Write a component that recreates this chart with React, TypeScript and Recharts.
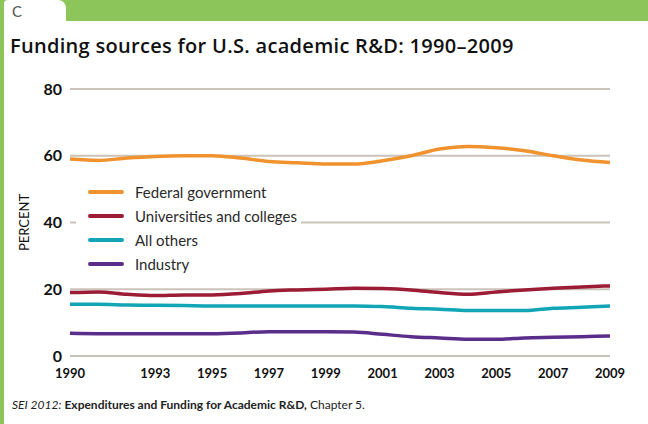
import React from 'react';
import { LineChart, Line, XAxis, YAxis, CartesianGrid } from 'recharts';

const years = [1990, 1991, 1992, 1993, 1994, 1995, 1996, 1997, 1998, 1999, 2000, 2001, 2002, 2003, 2004, 2005, 2006, 2007, 2008, 2009];
const federal = [59.0, 58.6, 59.3, 59.8, 60.0, 60.0, 59.3, 58.3, 57.9, 57.5, 57.5, 58.5, 60.0, 62.0, 62.8, 62.4, 61.5, 60.0, 58.7, 58.0];
const universities = [19.0, 19.2, 18.5, 18.1, 18.3, 18.3, 18.7, 19.5, 19.8, 20.0, 20.3, 20.2, 19.8, 19.0, 18.5, 19.2, 19.8, 20.3, 20.7, 21.0];
const allOthers = [15.5, 15.5, 15.3, 15.2, 15.1, 15.0, 15.0, 15.0, 15.0, 15.0, 15.0, 14.8, 14.3, 14.0, 13.6, 13.6, 13.6, 14.3, 14.6, 15.0];
const industry = [6.8, 6.7, 6.7, 6.7, 6.7, 6.7, 6.9, 7.3, 7.3, 7.3, 7.2, 6.5, 5.8, 5.4, 5.0, 5.0, 5.4, 5.6, 5.8, 6.0];
const xTicks = [1990, 1993, 1995, 1997, 1999, 2001, 2003, 2005, 2007, 2009];
const yTicks = [0, 20, 40, 60, 80];

const seriesNames = ['Federal government', 'Universities and colleges', 'All others', 'Industry'];
const seriesColors = ['#f0922e', '#9b1c34', '#12a5b5', '#5b2d8a'];
const seriesKeys = ['federal', 'universities', 'allOthers', 'industry'];

const data = years.map((y, i) => ({
  year: y,
  federal: federal[i],
  universities: universities[i],
  allOthers: allOthers[i],
  industry: industry[i],
}));

const FONT = 'Lato, "Open Sans", sans-serif';

export default function App() {
  return (
    <div style={{ position: 'absolute', left: 0, top: 0, width: 648, height: 424, background: '#fff', overflow: 'hidden', fontFamily: FONT }}>
      <div style={{ position: 'absolute', left: 0, top: 0, width: 648, height: 21, background: '#8cc65b' }} />
      <div style={{ position: 'absolute', left: 0, top: 0, width: 4, height: 424, background: '#8cc65b' }} />
      <div style={{ position: 'absolute', left: 4, top: 0, width: 62, height: 21, background: '#fff', borderTopRightRadius: 8, borderTopLeftRadius: 4 }} />
      <div style={{ position: 'absolute', left: 12, top: 2, fontSize: 15, color: '#555' }}>C</div>
      <div style={{ position: 'absolute', left: 10, top: 32, fontSize: 20, fontWeight: 600, color: '#111', whiteSpace: 'nowrap', fontFamily: '"Open Sans", sans-serif', letterSpacing: 0.3 }}>
        Funding sources for U.S. academic R&amp;D: 1990–2009
      </div>
      <div style={{ position: 'absolute', left: 12, top: 397, fontSize: 12, color: '#222', whiteSpace: 'nowrap' }}>
        <i>SEI 2012:</i> <span style={{ fontWeight: 700 }}>Expenditures and Funding for Academic R&amp;D,</span> Chapter 5.
      </div>
      <div style={{ position: 'absolute', left: 0, top: 0 }}>
        <LineChart width={648} height={424} data={data} margin={{ top: 89, right: 38, bottom: 38, left: 20 }}>
          <CartesianGrid vertical={false} stroke="#cbc3ba" strokeWidth={2} />
          <XAxis
            dataKey="year"
            type="number"
            domain={[1990, 2009]}
            ticks={xTicks}
            axisLine={false}
            tickLine={false}
            tickSize={0}
            tickMargin={13}
            height={30}
            interval={0}
            tick={{ fontSize: 13, fontWeight: 700, fill: '#111', fontFamily: FONT }}
          />
          <YAxis
            domain={[0, 80]}
            ticks={yTicks}
            axisLine={false}
            tickLine={false}
            tickSize={0}
            tickMargin={8}
            width={50}
            tick={{ fontSize: 16, fontWeight: 700, fill: '#111', fontFamily: FONT }}
            label={{ value: 'PERCENT', angle: -90, position: 'insideLeft', offset: 4, style: { fontSize: 13, fill: '#111', fontFamily: FONT, textAnchor: 'middle' } }}
          />
          {seriesKeys.map((k, i) => (
            <Line
              key={k}
              type="monotone"
              dataKey={k}
              name={seriesNames[i]}
              stroke={seriesColors[i]}
              strokeWidth={3.5}
              dot={false}
              isAnimationActive={false}
            />
          ))}
        </LineChart>
      </div>
      <div style={{ position: 'absolute', left: 76, top: 180, background: '#fff', padding: '0 4px 0 12px' }}>
        {seriesNames.map((n, i) => (
          <div key={n} style={{ display: 'flex', alignItems: 'center', height: 24 }}>
            <div style={{ width: 36, height: 4, borderRadius: 2, background: seriesColors[i], marginRight: 11 }} />
            <span style={{ fontSize: 15, color: '#2a2a2a' }}>{n}</span>
          </div>
        ))}
      </div>
    </div>
  );
}
